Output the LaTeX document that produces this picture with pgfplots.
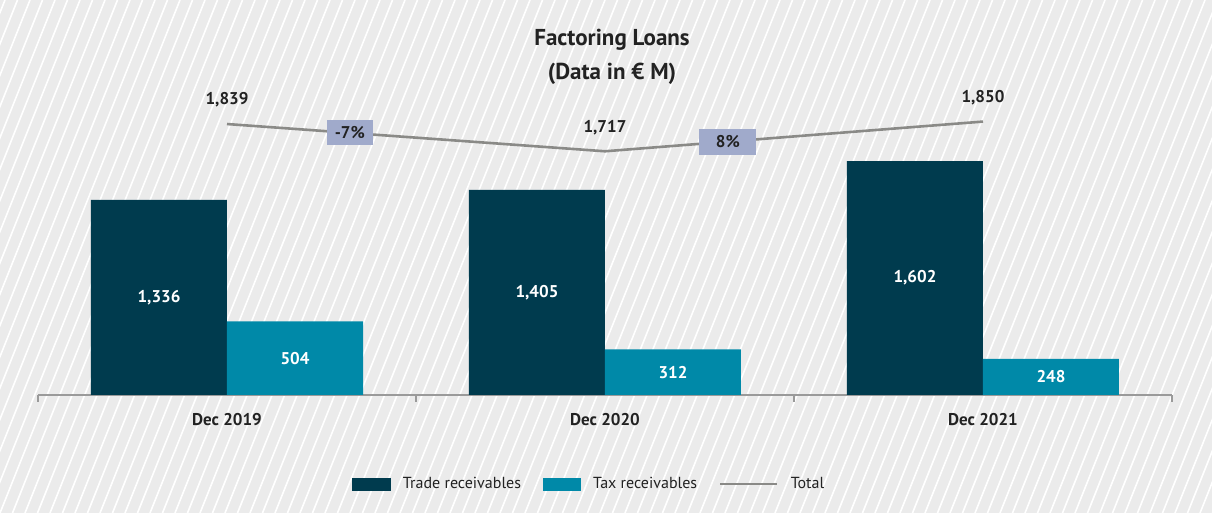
\documentclass[border=0pt]{standalone}
\usepackage{pgfplots}
\pgfplotsset{compat=1.18}
\usepackage{fontspec}
\setmainfont{PT Sans}
\definecolor{bg}{HTML}{EBEBEB}
\definecolor{trade}{HTML}{003B4E}
\definecolor{tax}{HTML}{0089A8}
\definecolor{tot}{HTML}{8A8A87}
\definecolor{pct}{HTML}{A0AACB}
\definecolor{txt}{HTML}{222222}
\definecolor{axl}{HTML}{9A9A9A}

\pgfplotstableread{
x y lab
0 1336 {1,336}
1 1405 {1,405}
2 1602 {1,602}
}\trade
\pgfplotstableread{
x y lab
0 504 {504}
1 312 {312}
2 248 {248}
}\tax
\pgfplotstableread{
x y lab
0 1839 {1,839}
1 1717 {1,717}
2 1850 {1,850}
}\total

\begin{document}
\begin{tikzpicture}[x=1pt,y=1pt]
\useasboundingbox (0,0) rectangle (1212,513);
\fill[bg] (0,0) rectangle (1212,513);
\begin{scope}
\clip (0,0) rectangle (1212,513);
\foreach \i in {-17,...,98} {
  \draw[white, line width=1.6pt] ({\i*12.5},0) -- ({\i*12.5+205},513);
}
\end{scope}

\node[font=\bfseries\fontsize{23}{27}\selectfont, text=txt] at (612,473) {Factoring Loans};
\node[font=\bfseries\fontsize{23}{27}\selectfont, text=txt] at (612,439) {(Data in € M)};

\begin{axis}[
  at={(38pt,118pt)}, anchor=south west,
  scale only axis, width=1134pt, height=300pt,
  xmin=-0.5, xmax=2.5, ymin=0, ymax=2055,
  axis x line*=bottom, axis y line=none,
  axis line style={axl, line width=1.2pt},
  xtick={0,1,2}, xticklabels={Dec 2019,Dec 2020,Dec 2021},
  major tick length=0pt, tick align=outside,
  extra x ticks={-0.5,0.5,1.5,2.5}, extra x tick labels={},
  extra x tick style={major tick length=7pt, tick style={axl, line width=1.2pt}},
  xticklabel style={font=\bfseries\fontsize{17}{20}\selectfont, text=txt, yshift=-15pt},
  ybar, bar width=136pt,
  clip=false,
  legend style={at={(0.486,-0.2967)}, anchor=center, legend columns=3, draw=none, fill=none,
    font=\fontsize{16}{19}\selectfont, text=txt,
    /tikz/every odd column/.append style={column sep=10pt},
    /tikz/every even column/.append style={column sep=20pt}},
  legend cell align=left,
  visualization depends on={\thisrow{y} \as \rawy},
  nodes near coords, point meta=explicit symbolic,
  every node near coord/.append style={font=\bfseries\fontsize{17}{20}\selectfont, text=white, anchor=center, yshift={-0.073*\rawy}},
]
\addplot[fill=trade, draw=none, bar shift=-68pt,
  legend image code/.code={\fill[trade] (0pt,-6.5pt) rectangle (39pt,6.5pt);}]
  table[x=x, y=y, meta=lab] {\trade};
\addlegendentry{Trade receivables}
\addplot[fill=tax, draw=none, bar shift=68pt,
  legend image code/.code={\fill[tax] (0pt,-6.5pt) rectangle (38pt,6.5pt);}]
  table[x=x, y=y, meta=lab] {\tax};
\addlegendentry{Tax receivables}
\addlegendimage{legend image code/.code={\draw[tot, line width=2.6pt] (0pt,0pt) -- (57pt,0pt);}}
\addlegendentry{Total}
\end{axis}

\begin{axis}[
  at={(38pt,118pt)}, anchor=south west,
  scale only axis, width=1134pt, height=300pt,
  xmin=-0.5, xmax=2.5, ymin=626, ymax=1969,
  axis lines=none, clip=false,
]
\addplot[tot, line width=2.6pt, nodes near coords, point meta=explicit symbolic,
  every node near coord/.append style={font=\bfseries\fontsize{17}{20}\selectfont, text=txt, yshift=12pt}]
  table[x=x, y=y, meta=lab] {\total};
\node[fill=pct, minimum width=46pt, minimum height=25pt, inner sep=0pt,
  font=\bfseries\fontsize{17}{20}\selectfont, text=txt] at (axis cs:0.325,1799.4) {-7\%};
\node[fill=pct, minimum width=57pt, minimum height=26pt, inner sep=0pt,
  font=\bfseries\fontsize{17}{20}\selectfont, text=txt] at (axis cs:1.325,1760.2) {8\%};
\end{axis}
\end{tikzpicture}
\end{document}
